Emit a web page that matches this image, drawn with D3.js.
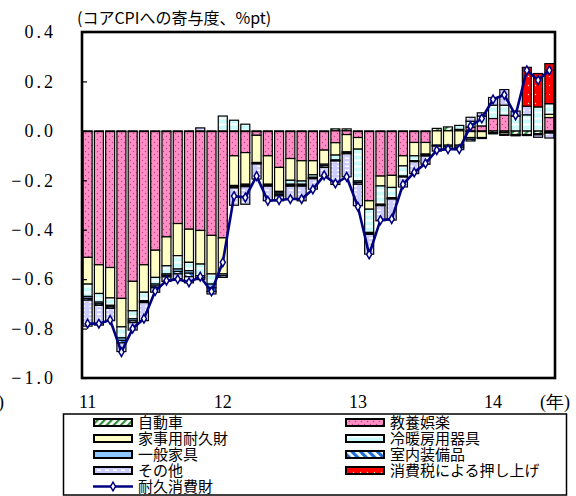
<!DOCTYPE html>
<html>
<head>
<meta charset="utf-8">
<script src="https://cdn.jsdelivr.net/npm/d3@7"></script>
<style>
  html, body { margin: 0; padding: 0; background: #fff; }
  svg { display: block; }
  .num { font-family: "Liberation Serif", "DejaVu Serif", serif; font-size: 18px; fill: #000; }
  .jp { font-family: "Noto Sans CJK JP", sans-serif; fill: #000; }
</style>
</head>
<body>
<svg id="chart" width="576" height="496"></svg>
<script>
// Monthly contributions to core CPI (%pt), Jan 2011 – Jun 2014
const months = d3.timeMonth.range(new Date(2011, 0, 1), new Date(2014, 6, 1));
const monthKeys = months.map(d3.timeFormat("%Y-%m"));

const seriesNames = ["自動車", "教養娯楽", "家事用耐久財", "冷暖房用器具", "一般家具", "室内装備品", "その他", "消費税による押し上げ"];

const car = [-0.003,-0.003,-0.003,-0.003,-0.003,-0.003,-0.003,-0.003,-0.003,-0.003,-0.003,-0.003,-0.003,-0.003,-0.003,-0.003,-0.003,-0.003,-0.003,-0.003,-0.003,-0.003,0.008,0.008,-0.003,-0.003,-0.003,-0.003,-0.003,-0.003,-0.003,0.010,0.016,0.006,-0.003,-0.003,-0.008,-0.006,-0.015,-0.015,-0.012,-0.005];
const edu = [-0.509,-0.539,-0.550,-0.675,-0.606,-0.539,-0.480,-0.426,-0.372,-0.395,-0.400,-0.420,-0.430,-0.098,-0.085,-0.015,-0.098,-0.145,-0.109,-0.118,-0.118,-0.075,-0.048,-0.015,-0.024,-0.280,-0.180,-0.177,-0.098,-0.044,-0.044,0,0,0,0.015,0.020,0.050,0.063,0,0,0,0.054];
const home = [-0.108,-0.116,-0.123,-0.115,-0.119,-0.111,-0.110,-0.117,-0.130,-0.134,-0.136,-0.156,-0.146,-0.120,-0.128,-0.110,-0.115,-0.097,-0.088,-0.082,-0.057,-0.057,-0.050,-0.070,-0.047,-0.034,-0.040,-0.049,-0.041,-0.054,-0.047,-0.058,-0.058,-0.058,-0.024,-0.024,0,-0.008,0,0,0,0.013];
const aircon = [-0.050,-0.035,-0.030,-0.045,-0.033,-0.034,-0.027,-0.033,-0.054,-0.034,-0.047,-0.041,0.060,0.043,0.027,0,0,-0.006,-0.016,-0.013,-0.010,0,-0.020,0,-0.129,-0.094,-0.074,-0.041,-0.041,-0.020,0,0,0,0.016,0.024,0.040,0.054,0.041,0.060,0.065,0.097,0.043];
const furniture = [-0.008,-0.007,-0.006,-0.010,-0.008,-0.004,-0.008,-0.006,-0.010,-0.010,-0.008,-0.015,-0.007,-0.005,-0.005,-0.003,-0.004,-0.006,-0.004,-0.004,-0.003,-0.006,-0.002,-0.004,-0.006,-0.004,-0.003,-0.003,-0.002,-0.002,-0.004,-0.002,-0.007,-0.008,-0.007,-0.002,-0.002,-0.002,-0.003,-0.002,-0.002,-0.002];
const interior = [-0.007,-0.006,-0.006,-0.010,-0.007,-0.004,-0.007,-0.006,-0.010,-0.014,-0.008,-0.015,-0.007,-0.005,-0.005,-0.003,-0.004,-0.006,-0.004,-0.004,-0.003,-0.007,-0.002,-0.004,-0.007,-0.004,-0.003,-0.003,-0.002,-0.002,-0.004,-0.002,-0.007,-0.010,-0.007,-0.002,-0.002,-0.002,-0.002,-0.002,-0.002,-0.002];
const other = [-0.105,-0.080,-0.050,-0.035,-0.030,-0.073,-0.018,-0.018,-0.020,-0.025,0.012,-0.010,0,-0.070,-0.071,-0.061,-0.059,-0.020,-0.052,-0.059,-0.042,-0.035,-0.095,-0.093,-0.087,-0.080,-0.061,-0.085,-0.040,-0.048,-0.033,-0.020,0,0,0.016,0.013,0.031,0.063,0.020,0.035,-0.010,-0.020];
const taxHike = [0,0,0,0,0,0,0,0,0,0,0,0,0,0,0,0,0,0,0,0,0,0,0,0,0,0,0,0,0,0,0,0,0,0,0,0,0,0,0,0.157,0.135,0.162];
const durables = [-0.780,-0.780,-0.765,-0.895,-0.800,-0.760,-0.648,-0.606,-0.600,-0.613,-0.590,-0.650,-0.532,-0.264,-0.270,-0.183,-0.283,-0.280,-0.276,-0.276,-0.237,-0.180,-0.213,-0.186,-0.307,-0.500,-0.361,-0.357,-0.217,-0.168,-0.132,-0.078,-0.074,-0.074,0.019,0.050,0.127,0.146,0.063,0.245,0.205,0.245];

const yTicks = [0.4, 0.2, 0.0, -0.2, -0.4, -0.6, -0.8, -1.0];
const yearTicks = [{ month: "2011-01", label: "11" }, { month: "2012-01", label: "12" }, { month: "2013-01", label: "13" }, { month: "2014-01", label: "14" }];

const seriesValues = [car, edu, home, aircon, furniture, interior, other, taxHike];
const patternIds = ["pCar", "pEdu", "pHome", "pAir", "pFurn", "pInt", "pOther", "pTax"];

const rows = monthKeys.map((m, i) => {
  const r = { month: m };
  seriesNames.forEach((k, j) => { r[k] = seriesValues[j][i]; });
  return r;
});

const svg = d3.select("#chart");
const plot = { left: 82, right: 555, top: 32, bottom: 378 };

// fill patterns
const defs = svg.append("defs");
function pattern(id, w, h) {
  return defs.append("pattern").attr("id", id).attr("patternUnits", "userSpaceOnUse")
    .attr("width", w).attr("height", h);
}
let p;
p = pattern("pCar", 5, 5).attr("patternTransform", "rotate(45)");
p.append("rect").attr("width", 5).attr("height", 5).attr("fill", "#fff");
p.append("rect").attr("width", 2.2).attr("height", 5).attr("fill", "#2e8b3a");

p = pattern("pEdu", 6, 6);
p.append("rect").attr("width", 6).attr("height", 6).attr("fill", "#ff8ec6");
p.append("circle").attr("cx", 1.5).attr("cy", 1.5).attr("r", 0.7).attr("fill", "#c0407f");
p.append("circle").attr("cx", 4.5).attr("cy", 4.5).attr("r", 0.7).attr("fill", "#c0407f");

p = pattern("pHome", 4, 4);
p.append("rect").attr("width", 4).attr("height", 4).attr("fill", "#ffffc6");

p = pattern("pAir", 4, 6);
p.append("rect").attr("width", 4).attr("height", 6).attr("fill", "#c8fafa");
p.append("rect").attr("y", 3.5).attr("width", 4).attr("height", 2).attr("fill", "#ffffff");

p = pattern("pFurn", 4, 4);
p.append("rect").attr("width", 4).attr("height", 4).attr("fill", "#8ec6ff");

p = pattern("pInt", 6, 6).attr("patternTransform", "rotate(-45)");
p.append("rect").attr("width", 6).attr("height", 6).attr("fill", "#fff");
p.append("rect").attr("width", 3.2).attr("height", 6).attr("fill", "#1a6fd6");

p = pattern("pOther", 8, 4);
p.append("rect").attr("width", 8).attr("height", 4).attr("fill", "#ccccff");
p.append("rect").attr("x", 1).attr("y", 1.5).attr("width", 4).attr("height", 1.5).attr("fill", "#ffffff");

p = pattern("pTax", 7, 9);
p.append("rect").attr("width", 7).attr("height", 9).attr("fill", "#ff0000");
p.append("circle").attr("cx", 3.5).attr("cy", 4.5).attr("r", 0.7).attr("fill", "#ffe0e0");

// scales
const x = d3.scaleBand().domain(monthKeys).range([plot.left, plot.right]).paddingInner(0.2).paddingOuter(0.1);
const y = d3.scaleLinear().domain([-1.0, 0.4]).range([plot.bottom, plot.top]);

// stacked bars (positive above zero, negative below)
const stacked = d3.stack().keys(seriesNames).offset(d3.stackOffsetDiverging)(rows);
const layers = svg.append("g").selectAll("g").data(stacked).join("g")
  .attr("fill", (d, i) => `url(#${patternIds[i]})`);
layers.selectAll("rect")
  .data(d => d.filter(s => Math.abs(s[1] - s[0]) > 1e-9))
  .join("rect")
  .attr("x", d => x(d.data.month))
  .attr("width", x.bandwidth())
  .attr("y", d => y(Math.max(d[0], d[1])))
  .attr("height", d => Math.abs(y(d[0]) - y(d[1])))
  .attr("stroke", "#000").attr("stroke-width", 1.2);

// y axis with inward ticks
const yAxis = d3.axisLeft(y).tickValues(yTicks).tickSize(-5).tickPadding(26)
  .tickFormat(d3.format(".1f"));
const ga = svg.append("g").attr("transform", `translate(${plot.left},0)`).call(yAxis);
ga.attr("font-family", null).attr("font-size", null);
ga.select(".domain").remove();
ga.selectAll(".tick line").attr("stroke", "#000").attr("stroke-width", 1.2);
ga.selectAll(".tick text").attr("class", "num")
  .style("font-family", "'Liberation Serif', 'DejaVu Serif', serif").style("font-size", "18px")
  .style("letter-spacing", "3px");

// plot frame
svg.append("rect").attr("x", plot.left).attr("y", plot.top)
  .attr("width", plot.right - plot.left).attr("height", plot.bottom - plot.top)
  .attr("fill", "none").attr("stroke", "#000").attr("stroke-width", 2.6);

// durable goods line
const cx = m => x(m) + x.bandwidth() / 2;
const line = d3.line().x((d, i) => cx(monthKeys[i])).y(d => y(d));
svg.append("path").datum(durables).attr("d", line)
  .attr("fill", "none").attr("stroke", "#000080").attr("stroke-width", 2.6)
  .attr("stroke-linejoin", "round");
const marker = d3.symbol().type(d3.symbolDiamond).size(22);
svg.append("g").selectAll("path").data(durables).join("path")
  .attr("d", marker)
  .attr("transform", (d, i) => `translate(${cx(monthKeys[i])},${y(d)})`)
  .attr("fill", "#fff").attr("stroke", "#000080").attr("stroke-width", 1.5);

// year labels
svg.append("g").selectAll("text").data(yearTicks).join("text")
  .attr("class", "num")
  .attr("x", d => cx(d.month)).attr("y", 408)
  .attr("text-anchor", "middle")
  .text(d => d.label);
svg.append("text").attr("class", "num").attr("x", 540).attr("y", 408).text("(年)");
svg.append("text").attr("class", "num").attr("x", 4).attr("y", 408).attr("text-anchor", "end").text(")");

// unit title
svg.append("text").attr("class", "jp").attr("x", 77).attr("y", 24)
  .style("font-size", "16px").text("(コアCPIへの寄与度、%pt)");

// legend
const legend = svg.append("g");
legend.append("rect").attr("x", 63.5).attr("y", 414).attr("width", 503).attr("height", 81)
  .attr("fill", "#fff").attr("stroke", "#000").attr("stroke-width", 1.5);
const legendItems = [
  { name: "自動車", pat: "pCar", col: 0, row: 0 },
  { name: "教養娯楽", pat: "pEdu", col: 1, row: 0 },
  { name: "家事用耐久財", pat: "pHome", col: 0, row: 1 },
  { name: "冷暖房用器具", pat: "pAir", col: 1, row: 1 },
  { name: "一般家具", pat: "pFurn", col: 0, row: 2 },
  { name: "室内装備品", pat: "pInt", col: 1, row: 2 },
  { name: "その他", pat: "pOther", col: 0, row: 3 },
  { name: "消費税による押し上げ", pat: "pTax", col: 1, row: 3 }
];
const colX = [94, 346];
const rowY = r => 422.5 + r * 16;
const li = legend.selectAll("g.item").data(legendItems).join("g").attr("class", "item");
li.append("rect")
  .attr("x", d => colX[d.col]).attr("y", d => rowY(d.row) - 3.5)
  .attr("width", 38).attr("height", 7)
  .attr("fill", d => `url(#${d.pat})`).attr("stroke", "#000").attr("stroke-width", 2);
li.append("text").attr("class", "jp")
  .attr("x", d => colX[d.col] + 44).attr("y", d => rowY(d.row) + 5.5)
  .style("font-size", "15px").text(d => d.name);
const lineRowY = rowY(4);
legend.append("line").attr("x1", colX[0] - 1).attr("x2", colX[0] + 39)
  .attr("y1", lineRowY).attr("y2", lineRowY).attr("stroke", "#000080").attr("stroke-width", 2.6);
legend.append("path").attr("d", marker)
  .attr("transform", `translate(${colX[0] + 19},${lineRowY})`)
  .attr("fill", "#fff").attr("stroke", "#000080").attr("stroke-width", 1.5);
legend.append("text").attr("class", "jp").attr("x", colX[0] + 44).attr("y", lineRowY + 5.5)
  .style("font-size", "15px").text("耐久消費財");
</script>
</body>
</html>
